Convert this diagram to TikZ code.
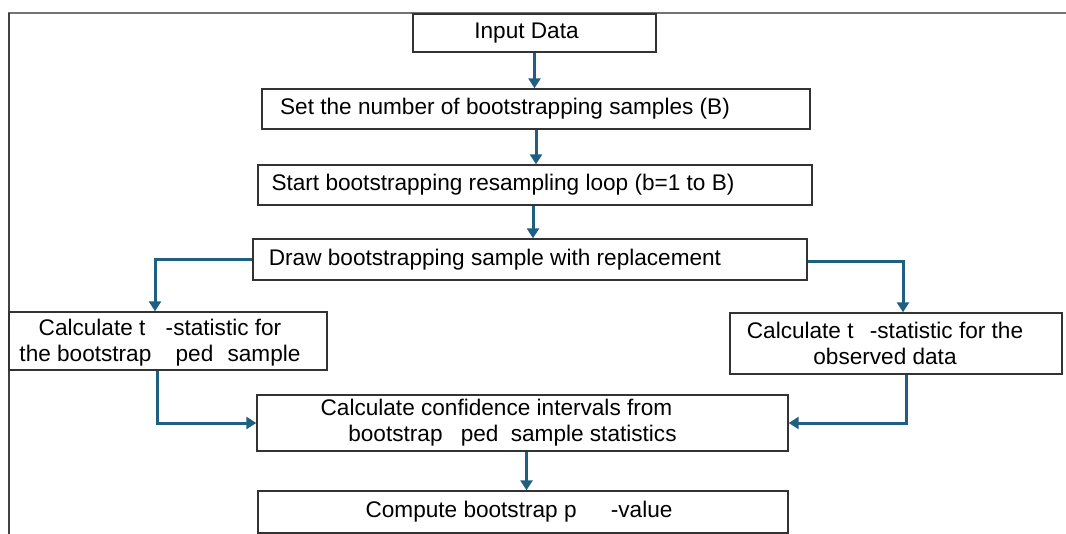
\documentclass[tikz,border=0pt]{standalone}
\usepackage{fontspec}
\setmainfont{Liberation Sans}
\usetikzlibrary{arrows.meta}
\definecolor{flowblue}{RGB}{31,96,130}

\begin{document}
\begin{tikzpicture}[x=0.5pt, y=-0.5pt, font=\fontsize{11.3}{13}\selectfont,
    box/.style = {draw=black!80, line width=0.7pt, inner sep=0pt, fill=white},
    arr/.style = {draw=flowblue, line width=1.5pt, -{Triangle[width=6pt,length=5pt]}}]
      \useasboundingbox (0,0) rectangle (1066,534);
      \draw[black!55, line width=1pt] (8,13) -- (1066,13);
      \draw[black!75, line width=1pt] (9,13) -- (9,534);

      \node[box, minimum width=121.5pt, minimum height=19pt, label={[xshift=-4pt]center:Input Data}] (inp) at (534.5,33) {};
      \node[box, minimum width=274pt, minimum height=20pt, label={[xshift=-15.5pt]center:Set the number of bootstrapping samples (B)}] (setB) at (536,109) {};
      \node[box, minimum width=277pt, minimum height=20pt, label={[xshift=-16pt]center:Start bootstrapping resampling loop (b=1 to B)}] (loop) at (535,185) {};
      \node[box, minimum width=277pt, minimum height=20.5pt, label={[xshift=-17.5pt]center:Draw bootstrapping sample with replacement}] (drawS) at (530,259.5) {};
      \node[box, minimum width=159pt, minimum height=29pt, label={[align=center, xshift=-4pt, yshift=-1pt]center:{Calculate t\hspace{7pt} -statistic for\\the bootstrap\hspace{9pt} ped\hspace{4pt} sample}}] (tboot) at (168,341) {};
      \node[box, minimum width=166pt, minimum height=30.5pt, label={[align=center, xshift=-5.5pt]center:{Calculate t\hspace{5pt} -statistic for the\\observed data}}] (tobs) at (896,343.5) {};
      \node[box, minimum width=265.5pt, minimum height=28pt, label={[align=center, xshift=-13pt]center:{Calculate confidence intervals from\\\hspace{16pt}bootstrap\hspace{6pt} ped\hspace{3pt} sample statistics}}] (ci) at (522.5,423) {};
      \node[box, minimum width=265pt, minimum height=21pt, label={[xshift=-2pt]center:Compute bootstrap p\hspace{14pt} -value}] (pval) at (523,512) {};

      \draw[arr] (inp.south) -- (inp.south |- setB.north);
      \draw[arr] (setB.south) -- (setB.south |- loop.north);
      \draw[arr] ([xshift=-1pt]loop.south) -- ([xshift=-1pt]loop.south |- drawS.north);
      \draw[arr] (drawS.west) -| ([xshift=-6.5pt]tboot.north);
      \draw[arr] ([yshift=-1pt]drawS.east) -| ([xshift=3.5pt]tobs.north);
      \draw[arr] ([xshift=-5.5pt]tboot.south) |- (ci.west);
      \draw[arr] ([xshift=5pt]tobs.south) |- (ci.east);
      \draw[arr] ([xshift=2pt]ci.south) -- ([xshift=2pt]ci.south |- pval.north);
    \end{tikzpicture}
\end{document}
